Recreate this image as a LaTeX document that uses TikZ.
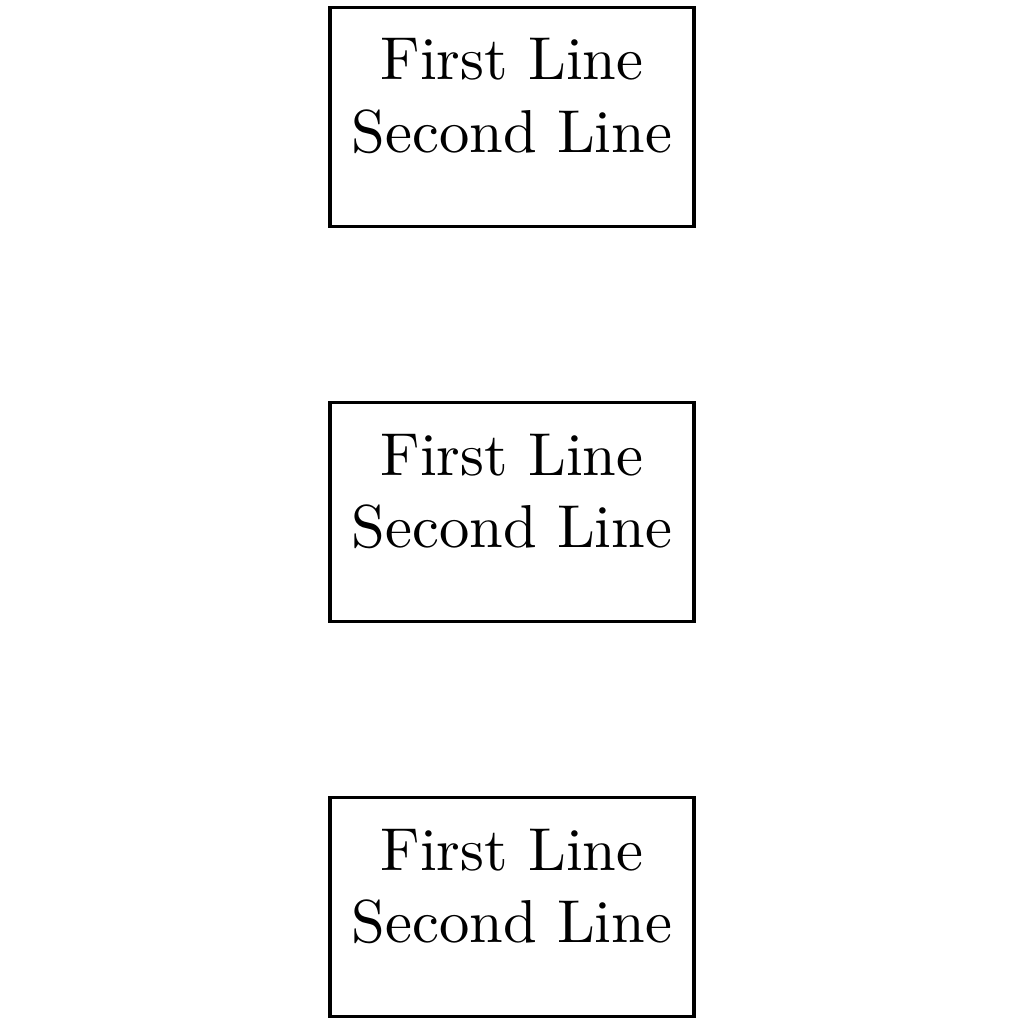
\documentclass[tikz,border=0pt]{standalone}
\usepackage{tikz}

\tikzset{
  linebox/.style = {draw, line width = 0.55pt, align = center,
    inner xsep = 3.6pt, text height = 20.6pt, text depth = 8.8pt}
}

\begin{document}
\begin{tikzpicture}
    \useasboundingbox (-84.5pt, -84.5pt) rectangle (84.5pt, 84.5pt);

    \node[linebox] (top) at (0, 65.2pt) {First Line\\Second Line};
    \node[linebox] (middle) at (0, 0) {First Line\\Second Line};
    \node[linebox] (bottom) at (0, -65.2pt) {First Line\\Second Line};

  \end{tikzpicture}
\end{document}
